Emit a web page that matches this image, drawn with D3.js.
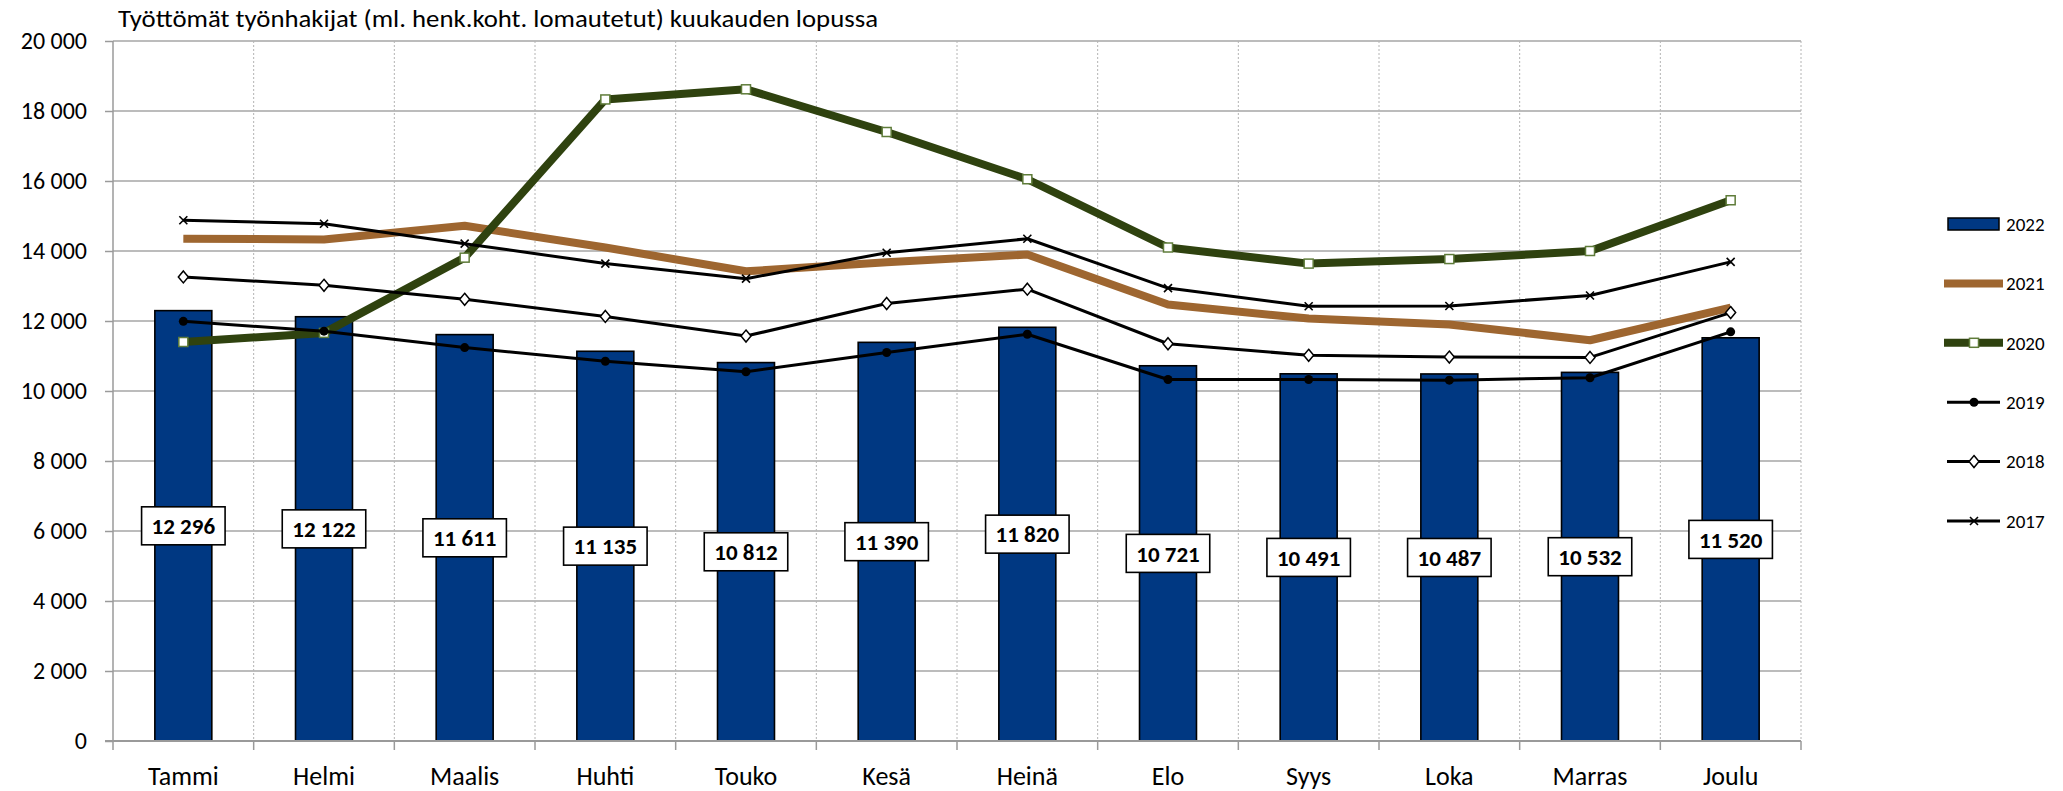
<!DOCTYPE html>
<html>
<head>
<meta charset="utf-8">
<script src="https://cdn.jsdelivr.net/npm/d3@7"></script>
<style>
  html, body { margin: 0; padding: 0; background: #ffffff; }
  svg { display: block; font-family: Carlito, Calibri, Lato, "Open Sans", sans-serif; }
</style>
</head>
<body>
<svg id="chart" width="2063" height="791"></svg>
<script>
// ---- data ----
const title = "Työttömät työnhakijat (ml. henk.koht. lomautetut) kuukauden lopussa";
const months = ["Tammi", "Helmi", "Maalis", "Huhti", "Touko", "Kesä", "Heinä", "Elo", "Syys", "Loka", "Marras", "Joulu"];
const yTicks = [0, 2000, 4000, 6000, 8000, 10000, 12000, 14000, 16000, 18000, 20000];
const seriesNames = ["2022", "2021", "2020", "2019", "2018", "2017"];
const v2022 = [12296, 12122, 11611, 11135, 10812, 11390, 11820, 10721, 10491, 10487, 10532, 11520];
const v2021 = [14350, 14330, 14720, 14100, 13420, 13680, 13900, 12470, 12070, 11900, 11450, 12380];
const v2020 = [11400, 11660, 13810, 18330, 18620, 17400, 16050, 14100, 13640, 13770, 14000, 15450];
const v2019 = [11990, 11710, 11240, 10850, 10550, 11100, 11620, 10330, 10330, 10310, 10380, 11690];
const v2018 = [13260, 13020, 12620, 12130, 11570, 12500, 12910, 11350, 11020, 10970, 10960, 12240];
const v2017 = [14880, 14780, 14210, 13640, 13210, 13950, 14350, 12940, 12420, 12430, 12730, 13690];

(function () {
// ---- setup ----
const svg = d3.select("#chart");
const fmt = d3.formatLocale({decimal: ",", thousands: " ", grouping: [3], currency: ["", ""]}).format(",d");

const pLeft = 113, pRight = 1801, pTop = 41, pBottom = 741;
const x = d3.scaleBand().domain(months).range([pLeft, pRight]).padding(0);
const y = d3.scaleLinear().domain([0, 20000]).range([pBottom, pTop]);
const bw = x.bandwidth();
const cx = m => x(m) + bw / 2;

const C = {
  bar: "#003882",
  c2021: "#9E6630",
  c2020: "#2F420F",
  sqStroke: "#5F7C3A",
  grid: "#a6a6a6",
  vgrid: "#b4b4b4",
  axis: "#9a9a9a"
};

// ---- grid ----
const grid = svg.append("g");
grid.selectAll("line.h").data(yTicks.filter(t => t > 0)).join("line")
  .attr("x1", pLeft).attr("x2", pRight)
  .attr("y1", d => y(d)).attr("y2", d => y(d))
  .attr("stroke", C.grid).attr("stroke-width", 1.6);
const bounds = d3.range(1, months.length + 1).map(i => pLeft + i * x.step());
grid.selectAll("line.v").data(bounds).join("line")
  .attr("x1", d => d).attr("x2", d => d)
  .attr("y1", y(20000)).attr("y2", y(0))
  .attr("stroke", C.vgrid).attr("stroke-width", 1).attr("stroke-dasharray", "2,2");

// ---- bars ----
const barW = bw * 0.405;
svg.append("g").selectAll("rect").data(months).join("rect")
  .attr("x", (m) => cx(m) - barW / 2)
  .attr("width", barW)
  .attr("y", (m, i) => y(v2022[i]))
  .attr("height", (m, i) => y(0) - y(v2022[i]))
  .attr("fill", C.bar).attr("stroke", "#000").attr("stroke-width", 1.6);

// ---- axes ----
const yAxis = svg.append("g").attr("transform", `translate(${pLeft},0)`)
  .call(d3.axisLeft(y).tickValues(yTicks).tickSize(8).tickPadding(18).tickFormat(fmt));
yAxis.select(".domain").remove();
yAxis.selectAll(".tick line").attr("stroke", C.axis).attr("stroke-width", 1.5);
yAxis.selectAll(".tick text").attr("font-size", 24).attr("fill", "#000")
  .style("font-family", "Carlito, Calibri, Lato, sans-serif");
svg.append("line").attr("x1", pLeft).attr("x2", pLeft).attr("y1", y(20000)).attr("y2", y(0) + 9)
  .attr("stroke", C.axis).attr("stroke-width", 1.5);

const xAxis = svg.append("g").attr("transform", `translate(0,${pBottom})`)
  .call(d3.axisBottom(x).tickSize(0).tickPadding(26));
xAxis.select(".domain").remove();
xAxis.selectAll(".tick text").attr("font-size", 26).attr("fill", "#000")
  .style("font-family", "Carlito, Calibri, Lato, sans-serif");
svg.append("line").attr("x1", pLeft - 8).attr("x2", pRight).attr("y1", y(0)).attr("y2", y(0))
  .attr("stroke", C.axis).attr("stroke-width", 1.8);
svg.append("g").selectAll("line").data(bounds).join("line")
  .attr("x1", d => d).attr("x2", d => d).attr("y1", y(0)).attr("y2", y(0) + 9)
  .attr("stroke", C.axis).attr("stroke-width", 1.5);

// ---- lines ----
const line = d3.line().x((d, i) => cx(months[i])).y(d => y(d));
const lineSeries = [
  {vals: v2021, color: C.c2021, width: 8, marker: "none"},
  {vals: v2020, color: C.c2020, width: 8, marker: "square"},
  {vals: v2019, color: "#000", width: 3, marker: "dot"},
  {vals: v2018, color: "#000", width: 3, marker: "diamond"},
  {vals: v2017, color: "#000", width: 3, marker: "x"}
];

function drawMarker(g, type, px, py) {
  if (type === "square") {
    g.append("rect").attr("x", px - 4.5).attr("y", py - 4.5).attr("width", 9).attr("height", 9)
      .attr("fill", "#fff").attr("stroke", C.sqStroke).attr("stroke-width", 1.5);
  } else if (type === "dot") {
    g.append("circle").attr("cx", px).attr("cy", py).attr("r", 4.5).attr("fill", "#000");
  } else if (type === "diamond") {
    g.append("path").attr("d", `M${px},${py - 6}L${px + 5},${py}L${px},${py + 6}L${px - 5},${py}Z`)
      .attr("fill", "#fff").attr("stroke", "#000").attr("stroke-width", 1.5);
  } else if (type === "x") {
    g.append("path").attr("d", `M${px - 4},${py - 4}L${px + 4},${py + 4}M${px + 4},${py - 4}L${px - 4},${py + 4}`)
      .attr("stroke", "#000").attr("stroke-width", 1.6).attr("fill", "none");
  }
}

const linesG = svg.append("g");
lineSeries.forEach(s => {
  const g = linesG.append("g");
  g.append("path").datum(s.vals).attr("d", line)
    .attr("fill", "none").attr("stroke", s.color).attr("stroke-width", s.width)
    .attr("stroke-linejoin", "round");
  if (s.marker !== "none") {
    s.vals.forEach((v, i) => drawMarker(g, s.marker, cx(months[i]), y(v)));
  }
});

// ---- data labels ----
const labG = svg.append("g");
months.forEach((m, i) => {
  const g = labG.append("g").attr("transform", `translate(${cx(m)},${y(v2022[i] / 2)})`);
  const rect = g.append("rect");
  const t = g.append("text").attr("text-anchor", "middle").attr("dy", "0.36em")
    .attr("font-size", 23).attr("font-weight", "bold").attr("fill", "#000").text(fmt(v2022[i]));
  const w = t.node().getComputedTextLength() + 20;
  rect.attr("x", -w / 2).attr("y", -19).attr("width", w).attr("height", 38)
    .attr("fill", "#fff").attr("stroke", "#000").attr("stroke-width", 1.6);
});

// ---- legend ----
const lg = svg.append("g");
const legY = d3.scalePoint().domain(seriesNames).range([224, 521]);
seriesNames.forEach((name, i) => {
  const ly = legY(name);
  const g = lg.append("g");
  if (i === 0) {
    g.append("rect").attr("x", 1948).attr("y", ly - 6).attr("width", 51).attr("height", 12)
      .attr("fill", C.bar).attr("stroke", "#000").attr("stroke-width", 1.5);
  } else {
    const s = lineSeries[i - 1];
    const thick = s.width > 4;
    g.append("line").attr("x1", thick ? 1944 : 1947).attr("x2", thick ? 2003 : 2000)
      .attr("y1", ly).attr("y2", ly).attr("stroke", s.color).attr("stroke-width", s.width);
    drawMarker(g, s.marker, 1974, ly);
  }
  g.append("text").attr("x", 2006).attr("y", ly).attr("dy", "0.36em")
    .attr("font-size", 19).attr("fill", "#000").text(name);
});

// ---- title ----
svg.append("text").attr("x", 118).attr("y", 27)
  .attr("font-size", 25).attr("fill", "#000")
  .attr("textLength", 760).attr("lengthAdjust", "spacingAndGlyphs")
  .text(title);
})();
</script>
</body>
</html>
